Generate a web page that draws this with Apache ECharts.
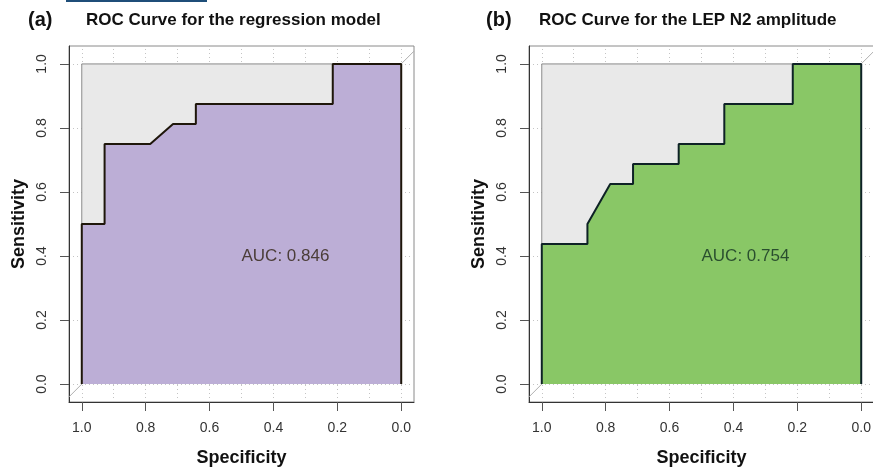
<!DOCTYPE html>
<html><head><meta charset="utf-8">
<script src="https://cdn.jsdelivr.net/npm/echarts@6/dist/echarts.min.js"></script>
<style>html,body{margin:0;padding:0;background:#fff}#c{width:873px;height:468px}</style>
</head><body><div id="c"></div>
<script>
// ---- data ----
const panelLabels = ['(a)', '(b)'];
const panelTitles = ['ROC Curve for the regression model', 'ROC Curve for the LEP N2 amplitude'];
const specA = [1, 1, 0.9286, 0.9286, 0.7857, 0.7143, 0.6429, 0.6429, 0.2143, 0.2143, 0, 0];
const sensA = [0, 0.5, 0.5, 0.75, 0.75, 0.8125, 0.8125, 0.875, 0.875, 1, 1, 0];
const specB = [1, 1, 0.8571, 0.8571, 0.7857, 0.7143, 0.7143, 0.5714, 0.5714, 0.4286, 0.4286, 0.2143, 0.2143, 0, 0];
const sensB = [0, 0.4375, 0.4375, 0.5, 0.625, 0.625, 0.6875, 0.6875, 0.75, 0.75, 0.875, 0.875, 1, 1, 0];
const aucLabels = ['AUC: 0.846', 'AUC: 0.754'];
const aucAnchorSpec = 0.5;
const aucAnchorSens = 0.4;
const tickValues = [0, 0.2, 0.4, 0.6, 0.8, 1.0];
const xGridValues = [0, 0.1, 0.2, 0.3, 0.4, 0.5, 0.6, 0.7, 0.8, 0.9, 1.0];
const yGridValues = [0, 0.2, 0.4, 0.6, 0.8, 1.0];
const squareSpec = [1, 1, 0];
const squareSens = [0, 1, 1];
const diagSpec = [1.04, -0.04];
const diagSens = [-0.04, 1.04];
const xAxisName = 'Specificity';
const yAxisName = 'Sensitivity';

// ---- styles ----
const FONT = 'Liberation Sans, Arial, Helvetica, sans-serif';
const fills = ['#bcaed6', '#89c766'];
const curveColors = ['#1e160a', '#0e2226'];
const aucColors = ['#2e2010', '#123020'];
const gridLefts = [69, 529];
const titleLefts = [[28, 86], [486, 539]];

const zip = (xs, ys) => xs.map((x, i) => [x, ys[i]]);
const rocData = [zip(specA, sensA), zip(specB, sensB)];

const grids = [], xAxes = [], yAxes = [], series = [], titles = [];
for (let i = 0; i < 2; i++) {
  grids.push({left: gridLefts[i], top: 46, width: 345, height: 356, show: true,
    outerBoundsMode: 'none', containLabel: false,
    borderColor: '#8a8a8a', borderWidth: 1, backgroundColor: 'transparent'});
  xAxes.push({type: 'value', gridIndex: i, inverse: true, min: -0.04, max: 1.04,
    name: xAxisName, nameLocation: 'middle', nameGap: 47,
    nameTextStyle: {fontFamily: FONT, fontSize: 18, fontWeight: 'bold', color: '#111'},
    axisLine: {show: true, onZero: false, lineStyle: {color: '#333', width: 1}},
    axisTick: {show: true, customValues: tickValues, length: 9, lineStyle: {color: '#555'}},
    axisLabel: {customValues: tickValues, formatter: v => v.toFixed(1), fontFamily: FONT,
      fontSize: 14, color: '#333', margin: 19},
    splitLine: {show: false}});
  yAxes.push({type: 'value', gridIndex: i, min: -0.056, max: 1.056,
    name: yAxisName, nameLocation: 'middle', nameGap: 41, nameRotate: 90,
    nameTextStyle: {fontFamily: FONT, fontSize: 18, fontWeight: 'bold', color: '#111'},
    axisLine: {show: true, onZero: false, lineStyle: {color: '#333', width: 1}},
    axisTick: {show: true, customValues: tickValues, length: 9, lineStyle: {color: '#555'}},
    axisLabel: {customValues: tickValues, formatter: v => v.toFixed(1), fontFamily: FONT,
      fontSize: 14, color: '#333', margin: 20, rotate: 90},
    splitLine: {show: false}});

  // diagonal reference line + dotted grid
  series.push({type: 'line', xAxisIndex: i, yAxisIndex: i, z: 1, silent: true,
    data: zip(diagSpec, diagSens), symbol: 'none', animation: false,
    lineStyle: {color: '#b0b0b0', width: 1},
    markLine: {silent: true, z: 0, symbol: 'none', label: {show: false}, animation: false,
      lineStyle: {type: [1, 3], color: '#c4c4c4', width: 1},
      data: xGridValues.map(v => ({xAxis: v})).concat(yGridValues.map(v => ({yAxis: v})))}});
  // grey unit square
  series.push({type: 'line', xAxisIndex: i, yAxisIndex: i, z: 2, silent: true,
    data: zip(squareSpec, squareSens), symbol: 'none', animation: false,
    lineStyle: {color: '#8a8a8a', width: 1},
    areaStyle: {color: '#e9e9e9', opacity: 1}});
  // ROC curve
  series.push({type: 'line', xAxisIndex: i, yAxisIndex: i, z: 3, silent: true,
    data: rocData[i], symbol: 'none', animation: false,
    lineStyle: {color: curveColors[i], width: 2},
    areaStyle: {color: fills[i], opacity: 1}});
  // AUC label
  series.push({type: 'scatter', xAxisIndex: i, yAxisIndex: i, z: 4, silent: true,
    data: [[aucAnchorSpec, aucAnchorSens]], symbolSize: 0,
    itemStyle: {color: 'rgba(0,0,0,0)'}, animation: false,
    label: {show: true, position: 'right', distance: 0, formatter: aucLabels[i],
      fontFamily: FONT, fontSize: 17, color: aucColors[i]}});

  titles.push({text: panelLabels[i], left: titleLefts[i][0], top: 10, padding: 0,
    textStyle: {fontFamily: FONT, fontSize: 20, fontWeight: 'bold', color: '#111'}});
  titles.push({text: panelTitles[i], left: titleLefts[i][1], top: 12, padding: 0,
    textStyle: {fontFamily: FONT, fontSize: 17, fontWeight: 'bold', color: '#111'}});
}

const chart = echarts.init(document.getElementById('c'), null, {renderer: 'canvas'});
chart.setOption({
  animation: false,
  backgroundColor: '#fff',
  title: titles,
  grid: grids,
  xAxis: xAxes,
  yAxis: yAxes,
  series: series,
  graphic: [{type: 'rect', shape: {x: 66, y: 0, width: 141, height: 2},
    style: {fill: '#1f4e79'}}]
});
</script></body></html>
